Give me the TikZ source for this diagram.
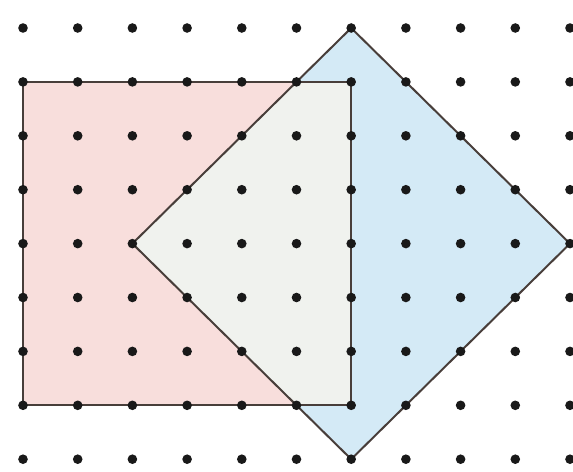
\documentclass[tikz,border=0pt]{standalone}
\usepackage{tikz}
\definecolor{pinkfill}{RGB}{248,222,220}
\definecolor{bluefill}{RGB}{212,234,246}
\definecolor{midfill}{RGB}{240,242,238}
\definecolor{pencil}{RGB}{72,62,58}

\begin{document}
\begin{tikzpicture}[x=54.7pt, y=-53.9pt]

  \useasboundingbox (-0.4205,-0.5195) rectangle (10.055,8.219);

  % square, grid corners
  \coordinate (sqTL) at (0,1);
  \coordinate (sqTR) at (6,1);
  \coordinate (sqBR) at (6,7);
  \coordinate (sqBL) at (0,7);
  % tilted square
  \coordinate (dT) at (6,0);
  \coordinate (dR) at (10,4);
  \coordinate (dB) at (6,8);
  \coordinate (dL) at (2,4);

  \fill[bluefill] (dT) -- (dR) -- (dB) -- (dL) -- cycle;
  \fill[pinkfill] (sqTL) rectangle (sqBR);
  \fill[midfill] (5,1) -- (sqTR) -- (sqBR) -- (5,7) -- (dL) -- cycle; % overlap

  \draw[pencil, line width=2pt] (sqTL) -- (sqTR) -- (sqBR) -- (sqBL) -- cycle;
  \draw[pencil, line width=2pt] (dT) -- (dR) -- (dB) -- (dL) -- cycle;

  % dot grid
  \foreach \i in {0,...,10}
    \foreach \j in {0,...,8}
      \fill[black!90] (\i,\j) circle (4.8pt);

\end{tikzpicture}
\end{document}
